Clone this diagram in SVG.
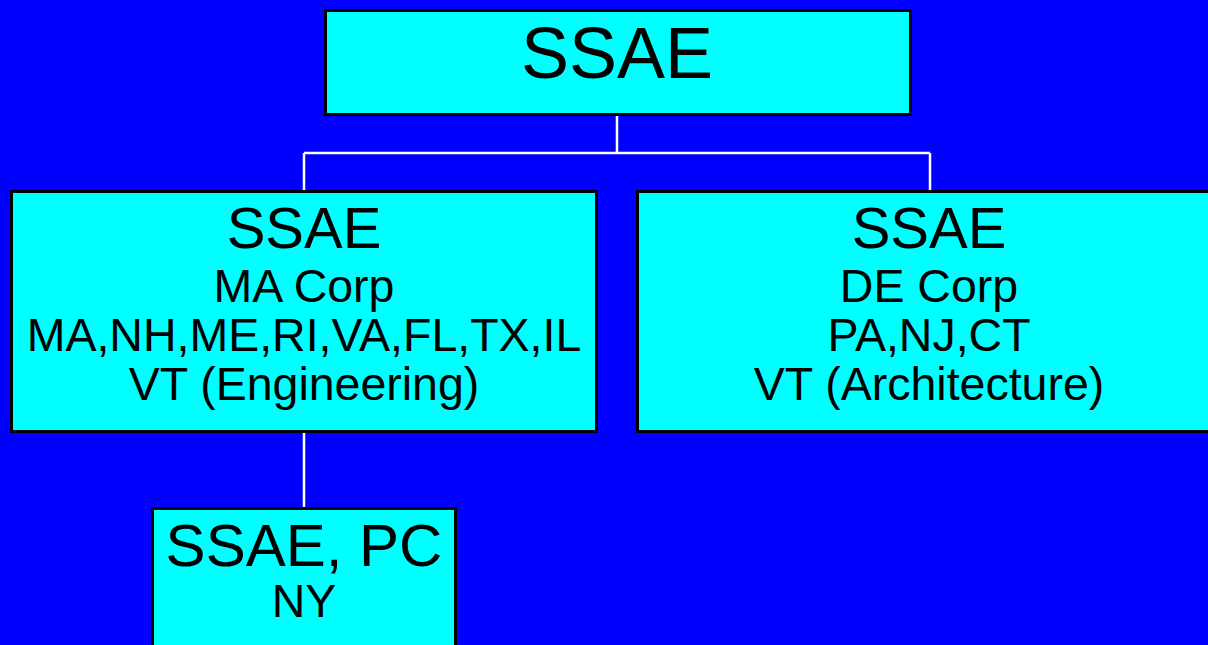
<svg xmlns="http://www.w3.org/2000/svg" width="1208" height="645" viewBox="0 0 1208 645">
<style>
.box{fill:#00FFFF;stroke:#000;stroke-width:3}
.t{font-family:"Liberation Sans",Arial,sans-serif;fill:#000;text-anchor:middle}
.s{font-size:46.5px}
.conn{stroke:#fff;stroke-width:2.5;fill:none}
</style>
<rect width="1208" height="645" fill="#0000FF"/>
<g id="connectors">
<path class="conn" d="M617,116 V153 M304,153 H930 M304,153 V190 M930,153 V190 M304,433 V507"/>
</g>
<g id="root">
<rect class="box" x="325.5" y="10.5" width="585" height="104"/>
<text class="t" x="617" y="78" font-size="72">SSAE</text>
</g>
<g id="ma">
<rect class="box" x="11.5" y="191.5" width="585" height="240"/>
<text class="t" x="304" y="248" font-size="58">SSAE</text>
<text class="t s" x="304" y="302">MA Corp</text>
<text class="t s" x="304" y="351">MA,NH,ME,RI,VA,FL,TX,IL</text>
<text class="t s" x="304" y="400">VT (Engineering)</text>
</g>
<g id="de">
<rect class="box" x="637.5" y="191.5" width="585" height="240"/>
<text class="t" x="929" y="248" font-size="58">SSAE</text>
<text class="t s" x="929" y="302">DE Corp</text>
<text class="t s" x="929" y="351">PA,NJ,CT</text>
<text class="t s" x="929" y="400">VT (Architecture)</text>
</g>
<g id="pc">
<rect class="box" x="152.5" y="508.5" width="303" height="150"/>
<text class="t" x="304" y="566" font-size="60">SSAE, PC</text>
<text class="t s" x="304" y="617">NY</text>
</g>
</svg>
